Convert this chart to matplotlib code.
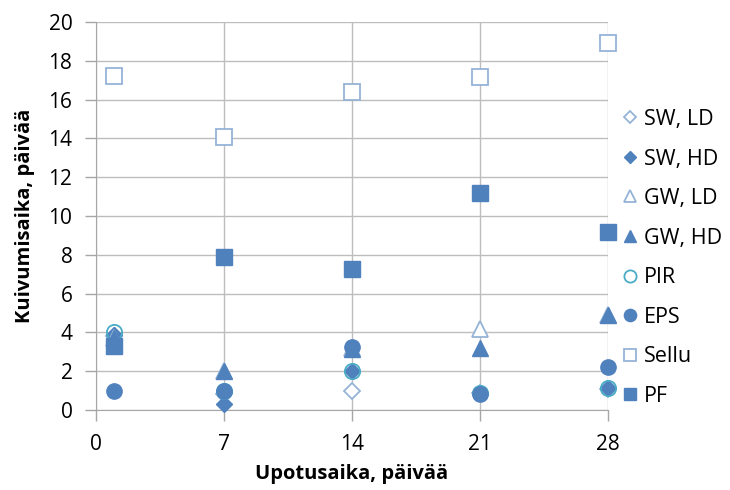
import matplotlib
matplotlib.use("Agg")
import matplotlib.pyplot as plt
from matplotlib.lines import Line2D

days = [1, 7, 14, 21, 28]
sw_ld = [3.8, 0.8, 1.0, 0.9, 1.1]
sw_hd = [3.85, 0.3, 2.0, 0.9, 1.15]
gw_ld = [3.7, 2.0, 3.2, 4.2, 4.9]
gw_hd = [3.7, 2.0, 3.15, 3.2, 4.9]
pir = [4.0, 1.0, 2.0, 0.9, 1.15]
eps = [1.0, 1.0, 3.25, 0.85, 2.2]
sellu = [17.2, 14.05, 16.4, 17.15, 18.9]
pf = [3.3, 7.9, 7.25, 11.2, 9.2]

labels = ["SW, LD", "SW, HD", "GW, LD", "GW, HD", "PIR", "EPS", "Sellu", "PF"]
xticks = [0, 7, 14, 21, 28]
yticks = list(range(0, 21, 2))

plt.rcParams['font.family'] = ['Open Sans', 'DejaVu Sans']

blue = "#4f81bd"
light = "#95b3d7"
teal = "#4bacc6"

fig = plt.figure(figsize=(7.3, 4.9), dpi=100)
ax = fig.add_axes([96/730, 1-410/490, (608-96)/730, (410-22)/490])

styles = [
    (sw_ld, dict(marker='D', ms=8, mfc='white', mec=light, mew=1.3)),
    (sw_hd, dict(marker='D', ms=8, mfc=blue, mec=blue, mew=1)),
    (gw_ld, dict(marker='^', ms=11, mfc='white', mec=light, mew=1.3)),
    (gw_hd, dict(marker='^', ms=11, mfc=blue, mec=blue, mew=1)),
    (pir, dict(marker='o', ms=11, mfc='none', mec=teal, mew=1.3)),
    (eps, dict(marker='o', ms=11, mfc=blue, mec=blue, mew=1)),
    (sellu, dict(marker='s', ms=11, mfc='white', mec=light, mew=1.3)),
    (pf, dict(marker='s', ms=11, mfc=blue, mec=blue, mew=1)),
]
for (vals, st), lab in zip(styles, labels):
    ax.plot(days, vals, linestyle='none', label=lab, clip_on=False, zorder=3, **st)

ax.set_xlim(0, 28)
ax.set_ylim(0, 20)
ax.set_xticks(xticks)
ax.set_yticks(yticks)
ax.grid(True, color='#bdbdbd', linewidth=1)
ax.set_axisbelow(True)
for s in ['top', 'right']:
    ax.spines[s].set_visible(False)
for s in ['left', 'bottom']:
    ax.spines[s].set_color('#a6a6a6')
ax.tick_params(axis='both', colors='#a6a6a6', labelcolor='black', labelsize=15, length=8, width=1)
ax.tick_params(axis='x', pad=9)
ax.tick_params(axis='y', pad=9)
ax.set_xlabel("Upotusaika, päivää", fontsize=14.5, fontweight='bold')
ax.set_ylabel("Kuivumisaika, päivää", fontsize=14.5, fontweight='bold')
ax.xaxis.set_label_coords(0.5, (410-474)/388)
ax.yaxis.set_label_coords((25-96)/512, 0.5)
ax.xaxis.label.set_va('center')
ax.yaxis.label.set_va('center')

leg_handles = []
for (vals, st), lab in zip(styles, labels):
    st2 = dict(st)
    st2['ms'] = st['ms'] * 0.8
    leg_handles.append(Line2D([], [], linestyle='none', **st2))
fig.legend(leg_handles, labels, loc='upper left', bbox_to_anchor=(619/730, 1-109/490),
           frameon=False, fontsize=15.5, labelspacing=0.86, handletextpad=0.15,
           handlelength=1.0, borderaxespad=0, borderpad=0)

fig.savefig("out.png", dpi=100)
